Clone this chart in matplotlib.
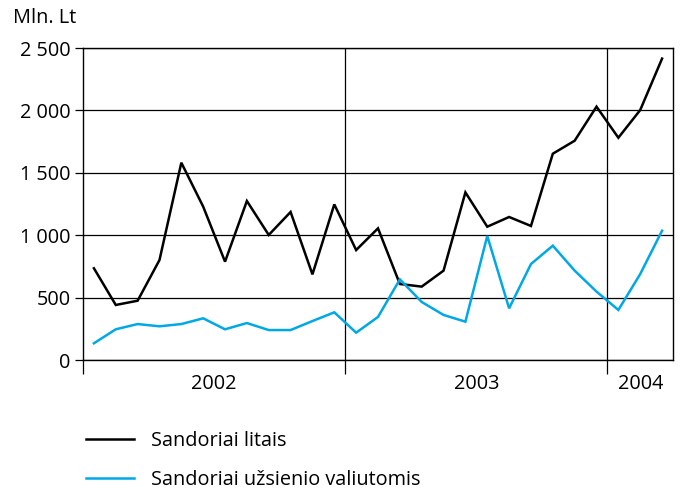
import matplotlib
matplotlib.use("Agg")
import matplotlib.pyplot as plt
import numpy as np

plt.rcParams['font.family'] = ['Open Sans', 'DejaVu Sans']

years = ["2002", "2003", "2004"]
months_per_year = [12, 12, 3]
litais = [735, 441, 475, 801, 1581, 1229, 788, 1274, 1002, 1186, 686, 1247,
          881, 1055, 609, 588, 716, 1343, 1068, 1146, 1074, 1653, 1757, 2030,
          1781, 2003, 2415]
uzsienio = [134, 246, 288, 270, 288, 334, 246, 296, 240, 240, 312, 382,
            219, 345, 646, 465, 361, 307, 994, 414, 769, 916, 716, 548,
            401, 689, 1036]
yticks = [0, 500, 1000, 1500, 2000, 2500]
ytick_labels = ["0", "500", "1 000", "1 500", "2 000", "2 500"]
series_labels = ["Sandoriai litais", "Sandoriai užsienio valiutomis"]
ylabel = "Mln. Lt"

FS = 14.3

fig = plt.figure(figsize=(6.8, 4.91), dpi=100)
ax = fig.add_axes([83/680, 1-360/491, (673-83)/680, (360-48)/491])

n = len(litais)
x = np.arange(n) + 0.5
l1, = ax.plot(x, litais, color='black', lw=1.8, solid_joinstyle='miter', zorder=3)
l2, = ax.plot(x, uzsienio, color='#00A8E6', lw=1.8, solid_joinstyle='miter', zorder=3)

ax.set_xlim(0, n)
ax.set_ylim(0, 2500)
ax.set_yticks(yticks)
ax.set_yticklabels(ytick_labels, fontsize=FS)
ax.yaxis.grid(True, color='black', lw=0.9)

bounds = np.concatenate([[0], np.cumsum(months_per_year)])
ax.set_xticks(bounds[:-1])
ax.set_xticklabels([])
ax.tick_params(axis='x', length=10, width=0.9, direction='out')
ax.tick_params(axis='y', length=6, width=0.9, direction='out', pad=3)
for b in bounds[1:-1]:
    ax.axvline(b, color='black', lw=0.9, zorder=1)
centers = (bounds[:-1] + bounds[1:]) / 2
for c, yl in zip(centers, years):
    ax.text(c, -0.045, yl, transform=ax.get_xaxis_transform(), ha='center', va='top', fontsize=FS)

for s in ax.spines.values():
    s.set_linewidth(1.0)
ax.set_axisbelow(True)

fig.text(13/680, 1-18/491, ylabel, ha='left', va='center', fontsize=FS)

fig.legend([l1, l2], series_labels, loc='upper left', bbox_to_anchor=(68/680, 1-413/491),
           frameon=False, fontsize=FS, handlelength=2.4, handletextpad=0.9, labelspacing=0.95)

fig.savefig("out.png", dpi=100)
